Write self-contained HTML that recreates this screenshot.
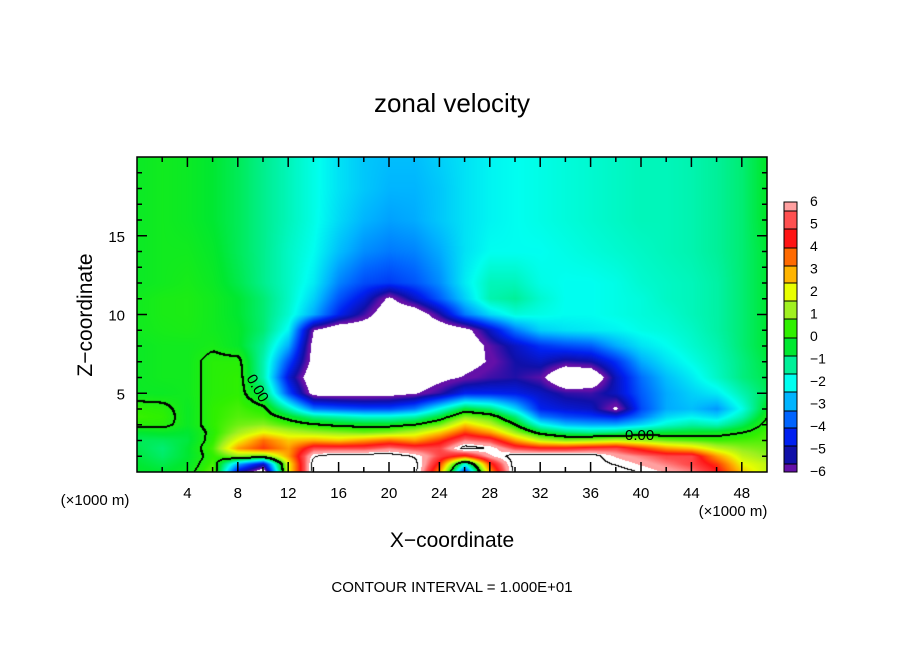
<!DOCTYPE html>
<html><head><meta charset="utf-8"><style>
body{margin:0;background:#fff;width:904px;height:654px;overflow:hidden;position:relative;font-family:"Liberation Sans",sans-serif}
#field{position:absolute;left:137px;top:157px}
svg{position:absolute;left:0;top:0}
</style></head><body>
<canvas id="field" width="630" height="315"></canvas>
<svg id="ov" width="904" height="654">
<text x="452" y="112" font-size="26" text-anchor="middle">zonal velocity</text>
<text x="452" y="547" font-size="21" text-anchor="middle">X−coordinate</text>
<text transform="translate(92,315) rotate(-90)" font-size="21" text-anchor="middle">Z−coordinate</text>
<text x="95" y="505" font-size="15" text-anchor="middle">(×1000 m)</text>
<text x="733" y="516" font-size="15" text-anchor="middle">(×1000 m)</text>
<text x="452" y="592" font-size="15" text-anchor="middle">CONTOUR INTERVAL = 1.000E+01</text>
<text transform="translate(246,378) rotate(60)" font-size="15">0.00</text>
<text x="625" y="440" font-size="15">0.00</text>
<g id="axes"></g>
<g id="cbar"></g>
</svg>
<script>
// grid data: columns at x = 0,2,...,50 km ; rows at z levels (km)
const xs=[0,2,4,6,8,10,12,14,16,18,20,22,24,26,28,30,32,34,36,38,40,42,44,46,48,50];
const zs=[0,0.5,1,1.5,2,2.5,3,3.5,4,5,6,7,8,9,10,11,12,14,16,18,20];
const r0=[-0.4,-0.5,-0.3,0.8,-5,-7,2,7,7,7,7,7,3,-4.5,3,7,7,7,7,7,6.5,6,5.5,4.5,2.5,1.5];
const r05=[-0.5,-0.7,-0.4,0.5,-3,-5,2,7,7,7,7,7,4,-2,4,7,7,7,7,6.5,6,5.5,5,4,2,1.5];
const r1=[-0.6,-0.9,-0.5,0.3,1,0.5,3,6.5,7,7,7,6.5,5,4,6,7,7,7,7,6,5.5,5,5,3,1.5,1];
const r15=[-0.7,-1.0,-0.5,0.5,3,4,3,5,5,5,5.5,5,5,7,6.5,5,4.5,4.5,4.8,5,4,3,2.5,1.5,1,0.8];
const r2=[-0.8,-0.8,-0.6,0.3,2,3.5,2.5,2.8,2.5,3,3.5,3,4,5.5,5,3,1.5,1,1.2,1.5,1.2,0.8,0.6,0.4,0.5,0.6];
const r25=[-0.5,-0.4,-0.5,0.2,1.2,2,1.5,1.2,1,0.8,1,1.5,2.5,4,3,1.2,-0.3,-1,-1.2,-1,-0.6,-0.5,-0.4,-0.3,0,0.5];
const r3=[0.2,0.2,-0.3,0.3,0.8,1,0.5,0.1,-0.2,-0.3,-0.3,0,0.8,2.5,1.5,0,-2,-2.8,-3,-3,-2.5,-1.8,-1.4,-1.6,-0.8,0.3];
const r35=[0.4,0.3,-0.3,0.3,0.6,0.5,-0.3,-1.2,-1.5,-1.8,-1.8,-1.5,-0.5,1,0.5,-1,-3.5,-4,-4.2,-4.5,-3.5,-2.5,-2.2,-2.5,-1.5,0];
const r4=[0.3,0.2,-0.3,0.3,0.5,0.2,-1.5,-3.5,-3.8,-4,-4,-3.5,-2,-0.5,-1,-2.5,-4.5,-4.8,-5,-6.3,-4,-3,-2.8,-3.2,-2,-0.3];
const r5=[-0.3,-0.3,-0.2,0.2,0.3,-0.8,-4,-6.5,-6.6,-6.6,-6.5,-6.2,-5.5,-4.5,-4.5,-4.6,-5,-5.5,-5.6,-5,-3.8,-3,-2.6,-2.3,-1.5,-0.8];
const r6=[-0.3,-0.2,-0.2,0.2,0.3,-1.5,-4.8,-7,-7,-7,-7,-7,-6.4,-6,-5.6,-5.4,-5.8,-7.5,-7.2,-5,-3.6,-2.8,-2.3,-1.7,-1.1,-0.7];
const r7=[-0.3,-0.2,-0.2,0.2,0.2,-1.5,-4,-6.5,-7,-7,-7,-7,-7,-6.5,-6,-5.3,-5,-5.5,-5.3,-4.3,-3,-2.4,-2,-1.6,-1.1,-0.6];
const r8=[-0.3,-0.2,-0.2,-0.1,-0.4,-1.3,-3,-6.5,-7,-7,-7,-7,-7,-7,-5.8,-5,-4.3,-4,-3.8,-3,-2.4,-2.1,-1.8,-1.5,-1,-0.5];
const r9=[-0.2,-0.1,-0.05,-0.2,-0.4,-1,-2.2,-6.1,-7,-7,-7,-7,-7,-6.5,-5,-3.5,-2.6,-2.4,-2.3,-2.2,-2,-1.9,-1.7,-1.4,-1,-0.5];
const r10=[-0.2,-0.05,-0.02,-0.2,-0.5,-1,-1.8,-3,-4.5,-5.6,-7,-7,-5.4,-3.5,-2.5,-1.9,-2,-2.1,-2.1,-2,-1.9,-1.8,-1.6,-1.4,-1,-0.5];
const r11=[-0.2,-0.05,-0.02,-0.2,-0.5,-1,-1.7,-2.6,-3.9,-4.8,-6.3,-5,-3.8,-2.6,-1.5,-1.3,-1.8,-2.1,-2.1,-2,-1.9,-1.7,-1.6,-1.4,-1,-0.5];
const r12=[-0.3,-0.2,-0.1,-0.3,-0.7,-1.2,-1.7,-2.3,-3.4,-4.0,-4.2,-3.9,-3.3,-2.3,-1.6,-1.6,-2,-2.1,-2.1,-2,-1.8,-1.7,-1.6,-1.4,-1,-0.5];
const r14=[-0.3,-0.2,-0.2,-0.4,-0.8,-1.2,-1.7,-2.1,-2.8,-3.3,-3.5,-3.4,-3,-2.4,-2.1,-2.1,-2.1,-2,-1.9,-1.8,-1.7,-1.6,-1.5,-1.3,-1,-0.5];
const r16=[-0.3,-0.2,-0.3,-0.5,-0.8,-1.2,-1.6,-2,-2.5,-2.9,-3.1,-3,-2.7,-2.4,-2.2,-2.1,-2,-1.9,-1.8,-1.7,-1.6,-1.6,-1.5,-1.3,-1,-0.4];
const r18=[-0.3,-0.2,-0.3,-0.5,-0.8,-1.2,-1.6,-2,-2.4,-2.7,-2.9,-2.9,-2.7,-2.4,-2.2,-2.1,-2,-1.9,-1.8,-1.7,-1.6,-1.6,-1.5,-1.3,-1,-0.4];
const r20=[-0.3,-0.2,-0.3,-0.5,-0.8,-1.2,-1.6,-2,-2.4,-2.7,-2.8,-2.8,-2.6,-2.4,-2.2,-2.1,-2,-1.9,-1.8,-1.7,-1.6,-1.6,-1.5,-1.3,-1,-0.4];
const grid=[r0,r05,r1,r15,r2,r25,r3,r35,r4,r5,r6,r7,r8,r9,r10,r11,r12,r14,r16,r18,r20];
const xTicks=[4,8,12,16,20,24,28,32,36,40,44,48];
const yTicks=[5,10,15];
const cbLabels=["6","5","4","3","2","1","0","−1","−2","−3","−4","−5","−6"];
const bandCols=["#ffa0a0","#ff5050","#ff1414","#ff6a00","#ffb400","#e8ff00","#a0f020","#30f000","#00e830","#00f098","#00fff0","#00b4ff","#0064ff","#0020f0","#1010a8","#6410a8"];
const bandEdges=[202,211,229,248,266,283,301,319,338,356,374,392,411,428,446,464,472];

const PX0=137,PY0=157,PW=630,PH=315,XMAX=50,ZMAX=20;
const sx=x=>PX0+x/XMAX*PW, sy=z=>PY0+PH-z/ZMAX*PH;
const vToY=v=>201+(6-v)*22.5;
const hex=h=>[parseInt(h.substr(1,2),16),parseInt(h.substr(3,2),16),parseInt(h.substr(5,2),16)];
const rgbs=bandCols.map(hex);
const centers=bandCols.map((c,i)=>(bandEdges[i]+bandEdges[i+1])/2);
function color(v){
  const y=vToY(v);
  if(y<199||y>473)return [255,255,255];
  if(y<=centers[0])return rgbs[0];
  if(y>=centers[centers.length-1])return rgbs[rgbs.length-1];
  for(let i=0;i<centers.length-1;i++){
    if(y<=centers[i+1]){const t=(y-centers[i])/(centers[i+1]-centers[i]);
      return rgbs[i].map((c,k)=>c+(rgbs[i+1][k]-c)*t);}
  }
}
function val(x,z){
  let i=Math.min(xs.length-2,Math.floor(x/2));const tx=(x-xs[i])/(xs[i+1]-xs[i]);
  let j=0;while(j<zs.length-2&&z>zs[j+1])j++;
  const tz=Math.max(0,Math.min(1,(z-zs[j])/(zs[j+1]-zs[j])));
  const a=grid[j][i]*(1-tx)+grid[j][i+1]*tx, b=grid[j+1][i]*(1-tx)+grid[j+1][i+1]*tx;
  return a*(1-tz)+b*tz;
}
const cv=document.getElementById('field'),ctx=cv.getContext('2d');
const img=ctx.createImageData(PW,PH);const F=new Float32Array(PW*PH);
for(let py=0;py<PH;py++)for(let px=0;px<PW;px++){
  const v=val(px/PW*XMAX,(PH-py-0.5)/PH*ZMAX);F[py*PW+px]=v;
  const c=color(v),o=(py*PW+px)*4;img.data[o]=c[0];img.data[o+1]=c[1];img.data[o+2]=c[2];img.data[o+3]=255;}
function mark(px,py){if(px<PW&&py<PH){const o=(py*PW+px)*4;img.data[o]=img.data[o+1]=img.data[o+2]=0;}}
for(let py=0;py<PH-1;py++)for(let px=0;px<PW-1;px++){
  const v=F[py*PW+px],r=F[py*PW+px+1],d=F[(py+1)*PW+px];
  if((v>0)!==(r>0)||(v>0)!==(d>0)){mark(px,py);mark(px+1,py);mark(px,py+1);}
  if((v>6.6)!==(r>6.6)||(v>6.6)!==(d>6.6))mark(px,py);
}
ctx.putImageData(img,0,0);

const NS='http://www.w3.org/2000/svg';
function mk(tag,attrs,parent){const e=document.createElementNS(NS,tag);for(const k in attrs)e.setAttribute(k,attrs[k]);parent.appendChild(e);return e;}
const ax=document.getElementById('axes');
const frame=mk('rect',{x:PX0,y:PY0,width:PW,height:PH,fill:'none',stroke:'#000','stroke-width':1.5},ax);


for(let x=2;x<XMAX;x+=2){const L=(x%4===0)?10:5;
  const t1=mk('line',{x1:sx(x),x2:sx(x),y1:PY0,y2:PY0+L,stroke:'#000','stroke-width':1.5},ax);
  
  
  const t2=mk('line',{x1:sx(x),x2:sx(x),y1:PY0+PH,y2:PY0+PH-L,stroke:'#000','stroke-width':1.5},ax);
  
  }
for(let z=1;z<ZMAX;z++){const L=(z%5===0)?10:5;
  const t1=mk('line',{x1:PX0,x2:PX0+L,y1:sy(z),y2:sy(z),stroke:'#000','stroke-width':1.5},ax);
  
  
  const t2=mk('line',{x1:PX0+PW,x2:PX0+PW-L,y1:sy(z),y2:sy(z),stroke:'#000','stroke-width':1.5},ax);
  
  }
xTicks.forEach(x=>{const t=mk('text',{x:sx(x),y:498,'font-size':15,'text-anchor':'middle'},ax);t.textContent=x;
  
  });
yTicks.forEach(z=>{const t=mk('text',{x:125,y:sy(z)+6,'font-size':15,'text-anchor':'end'},ax);t.textContent=z;
  
  });
const cb=document.getElementById('cbar');
bandCols.forEach((c,i)=>{const r=mk('rect',{x:784,y:bandEdges[i],width:13,height:bandEdges[i+1]-bandEdges[i],fill:c,stroke:'#000','stroke-width':1},cb);
  
  });
cbLabels.forEach((s,i)=>{const t=mk('text',{x:810,y:206+i*22.5,'font-size':14},cb);t.textContent=s;
  
  });
</script>
</body></html>
